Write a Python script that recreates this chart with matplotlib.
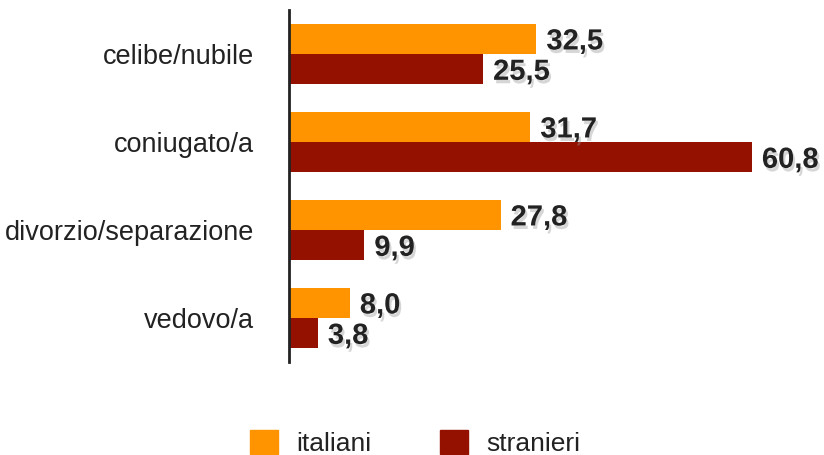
import numpy as np
import matplotlib.pyplot as plt
import matplotlib.patheffects as pe
from matplotlib.patches import Patch

plt.rcParams['font.family'] = ['Liberation Sans', 'DejaVu Sans']

categories = ['celibe/nubile', 'coniugato/a', 'divorzio/separazione', 'vedovo/a']
italiani = [32.5, 31.7, 27.8, 8.0]
stranieri = [25.5, 60.8, 9.9, 3.8]

col_ita = '#FF9300'
col_str = '#941100'
text_col = '#222222'

fig = plt.figure(figsize=(8.24, 4.55), dpi=100)
ax = fig.add_axes([289 / 824, 93 / 455, 533 / 824, 352 / 455])

y = np.arange(len(categories))
h = 0.345
b1 = ax.barh(y - h / 2, italiani, height=h, color=col_ita)
b2 = ax.barh(y + h / 2, stranieri, height=h, color=col_str)

# soft grey drop shadow under the value labels
shadow = [pe.SimplePatchShadow(offset=(1.5, -2.5), shadow_rgbFace='#999999', alpha=0.4), pe.Normal()]
for bars, vals in ((b1, italiani), (b2, stranieri)):
    for bar, v in zip(bars, vals):
        ax.text(v + 1.3, bar.get_y() + bar.get_height() / 2 + 0.03,
                f'{v:.1f}'.replace('.', ','), va='center', ha='left',
                fontsize=21, fontweight='bold', color=text_col,
                path_effects=shadow)

ax.set_xlim(0, 70)
ax.set_ylim(3.5, -0.5)
ax.set_yticks(y)
ax.set_yticklabels(categories, fontsize=19.5, color=text_col)
ax.tick_params(axis='y', length=0, pad=25)
ax.set_xticks([])
for s in ['top', 'right', 'bottom']:
    ax.spines[s].set_visible(False)
ax.spines['left'].set_linewidth(2)
ax.spines['left'].set_color(text_col)

handles = [Patch(color=col_ita, label='italiani'), Patch(color=col_str, label='stranieri')]
fig.legend(handles=handles, loc='center', bbox_to_anchor=(415 / 824, 1 - 443 / 455),
           ncol=2, frameon=False, fontsize=19, handlelength=1.05, handleheight=1.05,
           handletextpad=0.7, columnspacing=2.6, labelcolor=text_col)

fig.savefig('out.png', dpi=100)
